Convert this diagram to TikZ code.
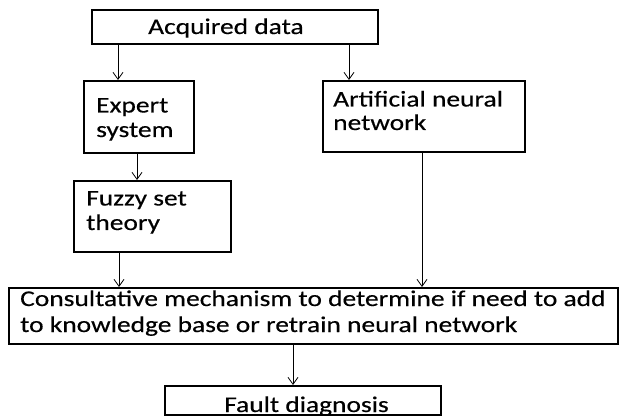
\documentclass[tikz,border=0pt]{standalone}
\usepackage{fontspec}
\setmainfont{Carlito}[FakeStretch=1.22,FakeBold=0.4]
\usetikzlibrary{arrows.meta}
\tikzset{
  box/.style={draw=black, line width=1.6pt, rectangle, inner sep=0pt, anchor=north west},
  txt/.style={anchor=base west, inner sep=0pt, align=left, font=\fontsize{22.5}{24.5}\selectfont},
  arr/.style={line width=0.8pt, -{Straight Barb[length=7pt,width=10pt]}},
}
\begin{document}
\begin{tikzpicture}[x=1pt,y=-1pt]
\useasboundingbox (0,0) rectangle (620,419);
% boxes
\node[box, minimum width=286pt, minimum height=34pt] (acq) at (91,9) {};
\node[box, minimum width=110pt, minimum height=72pt] (exp) at (83,80) {};
\node[box, minimum width=202pt, minimum height=71pt] (ann) at (322,80) {};
\node[box, minimum width=157pt, minimum height=71pt] (fuz) at (73,180) {};
\node[box, minimum width=609pt, minimum height=56pt] (con) at (8,287) {};
\node[box, minimum width=276pt, minimum height=29pt] (flt) at (164,385) {};
% texts
\node[txt] (acqt) at (148,34) {Acquired data};
\node[txt] (expt) at (96,137) {Expert\\system};
\node[txt, font=\fontsize{22.5}{23.5}\selectfont] (annt) at (333,130) {Artificial neural\\network};
\node[txt] (fuzt) at (86,230) {Fuzzy set\\theory};
\node[txt, font=\fontsize{22.5}{26}\selectfont] (cont) at (20,332) {Consultative mechanism to determine if need to add\\to knowledge base or retrain neural network};
\node[txt] (fltt) at (224,412) {Fault diagnosis};
% connectors
\draw[arr] ([xshift=27pt]acq.south west) -- ([xshift=35pt]exp.north west);
\draw[arr] ([xshift=258pt]acq.south west) -- ([xshift=27pt]ann.north west);
\draw[arr] ([xshift=54pt]exp.south west) -- ([xshift=64pt]fuz.north west);
\draw[arr] ([xshift=46pt]fuz.south west) -- ([xshift=111pt]con.north west);
\draw[arr] ([xshift=100pt]ann.south west) -- ([xshift=414pt]con.north west);
\draw[arr] ([xshift=285pt]con.south west) -- ([xshift=129pt]flt.north west);
\end{tikzpicture}
\end{document}
